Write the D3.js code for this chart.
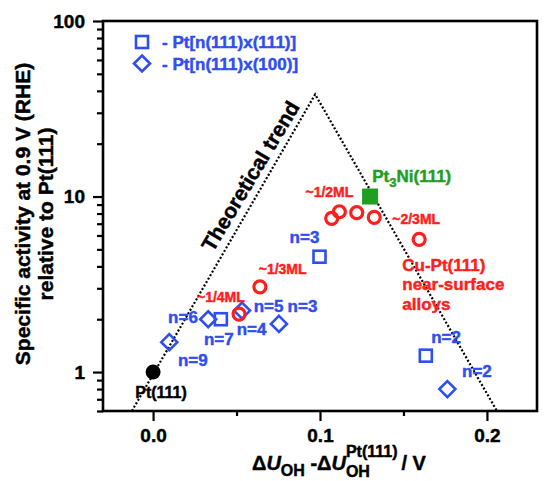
<!DOCTYPE html>
<html>
<head>
<meta charset="utf-8">
<script src="https://cdn.jsdelivr.net/npm/d3@7"></script>
<style>
	body { margin: 0; background: #fff; }
	text { font-family: "Liberation Sans", Arial, sans-serif; font-weight: bold; stroke-width: 0.45px; }
</style>
</head>
<body>
<svg id="chart" width="547" height="481"></svg>
<script>
// Theoretical volcano (dotted line)
const trendX = [-0.0127, 0.0971, 0.206];
const trendY = [0.6, 38.2, 0.6];

// Pt[n(111)x(111)] stepped surfaces (open squares)
const stepSquareX = [0.0406, 0.0997, 0.1634];
const stepSquareY = [2.0, 4.54, 1.24];

// Pt[n(111)x(100)] stepped surfaces (open diamonds)
const stepDiamondX = [0.0097, 0.033, 0.0533, 0.0754, 0.1763];
const stepDiamondY = [1.48, 2.0, 2.24, 1.88, 0.80];

// Cu-Pt(111) near-surface alloys (open red circles)
const cuPtX = [0.0515, 0.064, 0.107, 0.1116, 0.122, 0.1325, 0.1594];
const cuPtY = [2.14, 3.06, 7.51, 8.19, 8.09, 7.61, 5.70];

// Reference surfaces
const pt111 = [0, 1];
const pt3ni = [0.130, 10.0];

// Axis ticks
const xMajorTicks = [0, 0.1, 0.2];
const xMinorTicks = [0.05, 0.15];
const xTickLabels = ["0.0", "0.1", "0.2"];
const yMajorTicks = [1, 10, 100];
const yTickLabels = ["1", "10", "100"];
const yMinorTicks = [0.6, 0.7, 0.8, 0.9, 2, 3, 4, 5, 6, 7, 8, 9, 20, 30, 40, 50, 60, 70, 80, 90];

// Annotation texts, anchored in data space (left end of the baseline)
const blueLabels = ["n=9", "n=6", "n=7", "n=5", "n=3", "n=4", "n=3", "n=2", "n=2"];
const blueLabelX = [0.0149, 0.0090, 0.0305, 0.0603, 0.0806, 0.0501, 0.0818, 0.1666, 0.1851];
const blueLabelY = [1.082, 1.909, 1.425, 2.206, 2.206, 1.625, 5.455, 1.457, 0.940];

const coverageLabels = ["~1/4ML", "~1/3ML", "~1/2ML", "~2/3ML"];
const coverageLabelX = [0.0263, 0.0633, 0.0913, 0.1433];
const coverageLabelY = [2.515, 3.617, 9.97, 6.97];

const alloyLines = ["Cu-Pt(111)", "near-surface", "alloys"];
const alloyLabelX = 0.1493;
const alloyLabelY = [3.78, 2.93, 2.26];

const legendLabels = ["- Pt[n(111)x(111)]", "- Pt[n(111)x(100)]"];

const BLUE = "#2f4ef2";
const RED = "#ff1e1e";
const GREEN = "#1f9e1f";

const margin = { top: 21, right: 10, bottom: 70, left: 103 };
const svg = d3.select("#chart");
const width = 547 - margin.left - margin.right;
const height = 481 - margin.top - margin.bottom;

const x = d3.scaleLinear().domain([-0.03, 0.23]).range([0, width]);
const y = d3.scaleLog().domain([0.6, 100]).range([height, 0]);

const g = svg.append("g").attr("transform", `translate(${margin.left},${margin.top})`);

svg.append("defs").append("clipPath").attr("id", "plotClip")
	.append("rect").attr("width", width).attr("height", height);

// Axes: major and minor ticks drawn by d3 axes
g.append("g").attr("transform", `translate(0,${height})`)
	.call(d3.axisBottom(x).tickValues(xMajorTicks).tickSize(10).tickPadding(8)
		.tickFormat((d, i) => xTickLabels[i]));
g.append("g").attr("transform", `translate(0,${height})`)
	.call(d3.axisBottom(x).tickValues(xMinorTicks).tickSize(5).tickFormat(""));

g.append("g")
	.call(d3.axisLeft(y).tickValues(yMajorTicks).tickSize(10).tickPadding(8)
		.tickFormat((d, i) => yTickLabels[i]));
g.append("g")
	.call(d3.axisLeft(y).tickValues(yMinorTicks).tickSize(6).tickFormat(""));

g.selectAll(".domain").remove();
g.selectAll(".tick line").attr("stroke", "#000").attr("stroke-width", 2.2);
g.selectAll(".tick text").attr("fill", "#000").attr("stroke", "#000").style("font-size", "19px");

// Frame
g.append("rect").attr("width", width).attr("height", height)
	.attr("fill", "none").attr("stroke", "#000").attr("stroke-width", 2.6);

// Theoretical trend
const plot = g.append("g").attr("clip-path", "url(#plotClip)");
plot.append("path")
	.datum(trendX.map((d, i) => [d, trendY[i]]))
	.attr("d", d3.line().x(d => x(d[0])).y(d => y(d[1])))
	.attr("fill", "none").attr("stroke", "#000")
	.attr("stroke-width", 2.2).attr("stroke-dasharray", "2,2");

// Label along the rising branch
const p0 = [x(trendX[0]), y(trendY[0])];
const p1 = [x(trendX[1]), y(trendY[1])];
const ang = Math.atan2(p1[1] - p0[1], p1[0] - p0[0]);
const ux = Math.cos(ang), uy = Math.sin(ang);
const along = 0.485 * Math.hypot(p1[0] - p0[0], p1[1] - p0[1]);
const off = 9;
g.append("text")
	.attr("transform", `translate(${p0[0] + ux * along + uy * off},${p0[1] + uy * along - ux * off}) rotate(${ang * 180 / Math.PI + 0.8})`)
	.style("font-size", "21px").attr("fill", "#000").attr("stroke", "#000")
	.text("Theoretical trend");

// Markers
const squareSide = 12;
g.append("g").selectAll("rect")
	.data(stepSquareX.map((d, i) => [d, stepSquareY[i]]))
	.enter().append("rect")
	.attr("x", d => x(d[0]) - squareSide / 2)
	.attr("y", d => y(d[1]) - squareSide / 2)
	.attr("width", squareSide).attr("height", squareSide)
	.attr("fill", "none").attr("stroke", BLUE).attr("stroke-width", 2.6);

const diamond = (cx, cy, r) => `M${cx},${cy - r}L${cx + r},${cy}L${cx},${cy + r}L${cx - r},${cy}Z`;
g.append("g").selectAll("path")
	.data(stepDiamondX.map((d, i) => [d, stepDiamondY[i]]))
	.enter().append("path")
	.attr("d", d => diamond(x(d[0]), y(d[1]), 8))
	.attr("fill", "none").attr("stroke", BLUE).attr("stroke-width", 2.6);

g.append("g").selectAll("circle")
	.data(cuPtX.map((d, i) => [d, cuPtY[i]]))
	.enter().append("circle")
	.attr("cx", d => x(d[0])).attr("cy", d => y(d[1])).attr("r", 6)
	.attr("fill", "none").attr("stroke", RED).attr("stroke-width", 3.2);

g.append("circle")
	.attr("cx", x(pt111[0])).attr("cy", y(pt111[1])).attr("r", 7.5)
	.attr("fill", "#000");

g.append("rect")
	.attr("x", x(pt3ni[0]) - 8).attr("y", y(pt3ni[1]) - 8)
	.attr("width", 16).attr("height", 16)
	.attr("fill", GREEN);

// Annotations
g.append("g").selectAll("text")
	.data(blueLabels)
	.enter().append("text")
	.attr("x", (d, i) => x(blueLabelX[i]))
	.attr("y", (d, i) => y(blueLabelY[i]))
	.attr("fill", BLUE).attr("stroke", BLUE).style("font-size", "17px")
	.text(d => d);

g.append("g").selectAll("text")
	.data(coverageLabels)
	.enter().append("text")
	.attr("x", (d, i) => x(coverageLabelX[i]))
	.attr("y", (d, i) => y(coverageLabelY[i]))
	.attr("fill", RED).attr("stroke", RED).style("font-size", "14px")
	.text(d => d);

g.append("g").selectAll("text")
	.data(alloyLines)
	.enter().append("text")
	.attr("x", x(alloyLabelX))
	.attr("y", (d, i) => y(alloyLabelY[i]))
	.attr("fill", RED).attr("stroke", RED).style("font-size", "17px")
	.text(d => d);

g.append("text")
	.attr("x", x(-0.0107)).attr("y", y(0.711))
	.attr("fill", "#000").attr("stroke", "#000").style("font-size", "16px")
	.text("Pt(111)");

const niLabel = g.append("text")
	.attr("x", x(0.1313)).attr("y", y(12.14))
	.attr("fill", GREEN).attr("stroke", GREEN).style("font-size", "17px");
niLabel.append("tspan").text("Pt");
niLabel.append("tspan").attr("dy", 5).style("font-size", "13px").text("3");
niLabel.append("tspan").attr("dy", -5).text("Ni(111)");

// Legend
const legend = g.append("g").attr("transform", "translate(39,21)");
legend.append("rect").attr("x", -6).attr("y", -6).attr("width", 12).attr("height", 12)
	.attr("fill", "none").attr("stroke", BLUE).attr("stroke-width", 2.6);
legend.append("path").attr("d", diamond(0, 21.5, 8))
	.attr("fill", "none").attr("stroke", BLUE).attr("stroke-width", 2.6);
legend.selectAll("text")
	.data(legendLabels)
	.enter().append("text")
	.attr("x", 20).attr("y", (d, i) => 6 + i * 21.5)
	.attr("fill", BLUE).attr("stroke", BLUE).style("font-size", "17px")
	.text(d => d);

// X axis title: ΔU_OH - ΔU_OH^Pt(111) / V
const xt = svg.append("text").attr("x", 252).attr("y", 470).style("font-size", "20px")
	.attr("fill", "#000").attr("stroke", "#000");
xt.append("tspan").text("Δ");
xt.append("tspan").style("font-style", "italic").text("U");
xt.append("tspan").attr("dy", 6).style("font-size", "16px").text("OH");
xt.append("tspan").attr("dy", -6).text(" -Δ");
xt.append("tspan").style("font-style", "italic").text("U");
const xtEnd = 252 + xt.node().getComputedTextLength();
const sup = svg.append("text").attr("x", xtEnd).attr("y", 457).attr("stroke", "#000")
	.style("font-size", "16px").text("Pt(111)");
const sub = svg.append("text").attr("x", xtEnd).attr("y", 477).attr("stroke", "#000")
	.style("font-size", "16px").text("OH");
const scriptW = Math.max(sup.node().getComputedTextLength(), sub.node().getComputedTextLength());
svg.append("text").attr("x", xtEnd + scriptW + 4).attr("y", 470).attr("stroke", "#000")
	.style("font-size", "20px").text("/ V");

// Y axis title (two lines)
const ytitle = svg.append("g").attr("transform", `translate(0,${margin.top + height / 2 - 2})`);
ytitle.append("text").attr("transform", "translate(30,0) rotate(-90)")
	.attr("text-anchor", "middle").attr("stroke", "#000").style("font-size", "21px")
	.text("Specific activity at 0.9 V (RHE)");
ytitle.append("text").attr("transform", "translate(53,0) rotate(-90)")
	.attr("text-anchor", "middle").attr("stroke", "#000").style("font-size", "21px")
	.text("relative to Pt(111)");
</script>
</body>
</html>
